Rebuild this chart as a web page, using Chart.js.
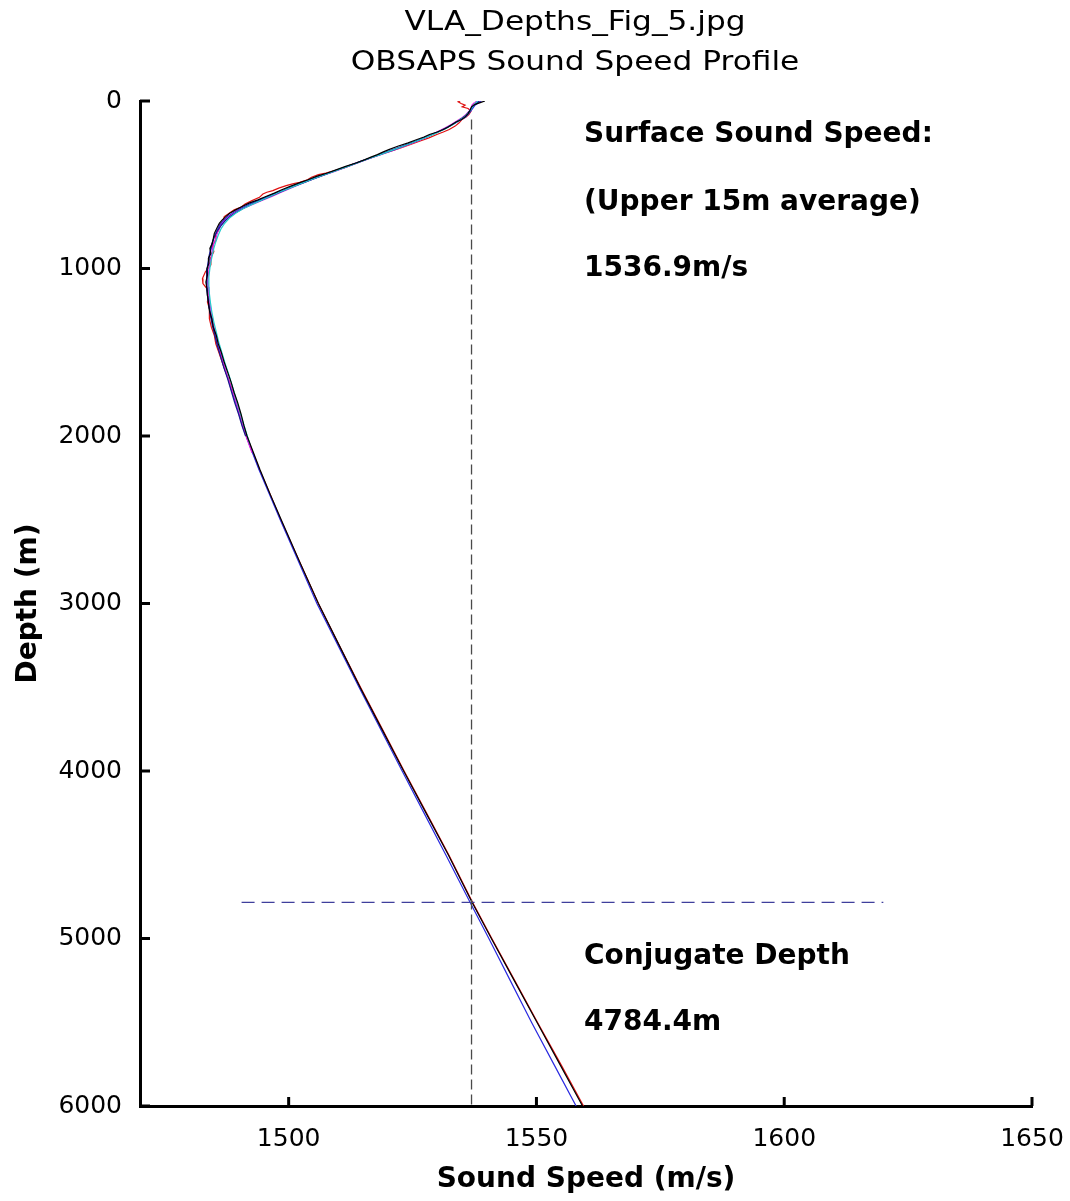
<!DOCTYPE html>
<html>
  <head>
    <title>OBSAPS Sound Speed Profile</title>
    <script src="https://cdn.jsdelivr.net/npm/chart.js"></script>
    <style>
      body {
        background-color: #ffffff;
        margin: 0;
      }
    </style>
  </head>
  <body>
    <canvas id="myChart" width="1070" height="1201"></canvas>

    <script>
      // [depth (m), sound speed (m/s)] pairs
      const castBlack = [
        [0,1539.6],[8,1538.8],[20,1537.6],[35,1536.9],[55,1536.6],[75,1536.2],[95,1535.6],[110,1534.9],
        [125,1533.8],[140,1533.0],[155,1532.2],[170,1531.2],[185,1530.0],[200,1528.4],[215,1527.3],[230,1525.9],
        [250,1524.1],[270,1522.0],[290,1520.2],[305,1519.0],[320,1517.9],[335,1516.6],[350,1515.4],[370,1513.6],
        [390,1511.5],[410,1509.7],[430,1507.8],[450,1505.6],[470,1503.9],[490,1502.0],[510,1500.3],[530,1498.6],
        [550,1497.1],[570,1495.4],[590,1493.8],[610,1492.0],[630,1490.6],[650,1489.3],[670,1488.1],[690,1487.3],
        [710,1486.6],[730,1486.0],[760,1485.5],[790,1485.0],[820,1484.8],[850,1484.6],[880,1484.1],[910,1484.3],
        [940,1483.8],[970,1483.9],[1000,1483.5],[1040,1483.6],[1080,1483.3],[1120,1483.5],[1160,1483.6],[1200,1483.8],
        [1250,1484.0],[1300,1484.5],[1350,1484.8],[1400,1485.4],[1450,1485.8],[1500,1486.4],[1560,1487.0],[1620,1487.7],
        [1680,1488.4],[1740,1489.0],[1800,1489.7],[1870,1490.4],[1940,1491.0],[2000,1491.6],[2100,1492.9],[2200,1494.2],
        [2350,1496.3],[2500,1498.5],[2750,1502.2],[3000,1506.0],[3250,1510.2],[3500,1514.4],[3750,1518.8],[4000,1523.2],
        [4250,1527.7],[4500,1532.2],[4784,1537.0],[5000,1540.9],[5250,1545.5],[5500,1550.1],[5750,1554.7],[6000,1559.3]
      ];
      const castRed = [
        [0,1534.6],[5,1534.2],[15,1534.8],[25,1535.6],[35,1535.0],[45,1536.2],[60,1536.8],[80,1536.4],[95,1535.8],
        [110,1535.0],[130,1534.4],[150,1533.6],[170,1532.4],[185,1531.2],[200,1529.9],[220,1528.3],[240,1526.4],
        [260,1524.6],[280,1522.6],[300,1520.6],[320,1518.4],[340,1516.5],[360,1514.6],[380,1512.7],[400,1511.2],
        [415,1509.3],[430,1507.5],[440,1506.0],[455,1504.6],[470,1503.8],[485,1502.2],[495,1500.8],[505,1499.5],
        [520,1498.0],[535,1496.8],[545,1495.6],[555,1494.8],[575,1494.1],[595,1492.6],[615,1491.2],[635,1490.3],
        [650,1489.0],[670,1488.0],[690,1487.0],[715,1486.8],[740,1486.0],[770,1485.9],[800,1485.2],[830,1485.4],
        [860,1484.6],[900,1484.9],[940,1484.2],[980,1484.3],[1020,1483.2],[1060,1482.6],[1090,1482.7],[1120,1483.5],
        [1160,1483.9],[1200,1483.6],[1250,1484.1],[1300,1484.0],[1350,1484.4],[1400,1485.0],[1450,1485.3],[1500,1485.9],
        [1560,1486.6],[1620,1487.3],[1680,1488.1],[1740,1488.8],[1800,1489.4],[1870,1490.2],[1940,1490.9],[2000,1491.5],
        [2100,1492.8],[2200,1494.1],[2350,1496.3],[2500,1498.4],[2750,1502.2],[3000,1506.0],[3250,1510.2],[3500,1514.5],
        [3750,1518.9],[4000,1523.3],[4250,1527.8],[4500,1532.3],[4784,1537.1],[5000,1541.0],[5250,1545.6],[5500,1550.2],
        [5750,1554.9],[6000,1559.5]
      ];
      const castBlue = [
        [0,1538.9],[10,1538.3],[25,1537.6],[45,1537.1],[70,1536.5],[95,1535.7],[115,1534.6],[135,1533.4],[155,1532.1],
        [175,1530.8],[195,1529.3],[215,1527.6],[240,1525.6],[265,1523.4],[290,1521.0],[315,1518.8],[340,1516.4],
        [365,1514.1],[390,1511.8],[415,1509.4],[440,1507.1],[465,1504.8],[490,1502.6],[515,1500.4],[540,1498.2],
        [565,1496.2],[590,1494.1],[615,1492.1],[640,1490.4],[665,1488.9],[690,1487.7],[715,1486.8],[745,1486.0],
        [775,1485.5],[810,1485.0],[850,1484.6],[890,1484.3],[930,1484.0],[970,1483.8],[1010,1483.6],[1060,1483.5],
        [1110,1483.5],[1160,1483.7],[1220,1483.9],[1280,1484.3],[1340,1484.7],[1400,1485.2],[1460,1485.7],[1520,1486.3],
        [1590,1487.0],[1660,1487.8],[1730,1488.5],[1800,1489.3],[1870,1490.0],[1940,1490.7],[2000,1491.4],[2200,1494.0],
        [2500,1498.3],[3000,1505.7],[3500,1514.2],[4000,1522.9],[4250,1527.3],[4500,1531.7],[4784,1536.6],[5000,1540.4],
        [5250,1544.7],[5500,1549.0],[5750,1553.5],[6000,1558.0]
      ];
      const castMagenta = [
        [0,1537.6],[5,1538.3],[12,1537.4],[25,1537.0],[40,1536.8],[60,1536.4],[80,1535.8],[100,1535.0],[120,1533.9],
        [140,1532.8],[160,1531.6],[180,1530.3],[200,1528.9],[220,1527.6],[245,1525.6],[270,1523.4],[295,1521.1],
        [320,1518.6],[345,1516.2],[370,1513.9],[395,1511.6],[420,1509.3],[445,1506.9],[470,1504.6],[495,1502.4],
        [520,1500.4],[545,1498.5],[570,1496.6],[595,1494.5],[620,1492.5],[645,1490.6],[670,1489.0],[695,1487.8],
        [720,1486.9],[750,1486.2],[780,1485.7],[810,1485.4],[850,1484.9],[890,1484.6],[930,1484.4],[970,1484.1],
        [1010,1483.9],[1060,1483.7],[1110,1483.8],[1160,1483.9],[1210,1484.1],[1270,1484.4],[1330,1484.8],[1390,1485.3],
        [1450,1485.8],[1510,1486.3],[1570,1486.9],[1640,1487.6],[1710,1488.4],[1780,1489.2],[1850,1489.9],[1920,1490.6],
        [2000,1491.4],[2100,1492.6]
      ];
      const castCyan = [
        [0,1538.2],[10,1537.8],[25,1537.3],[45,1536.9],[70,1536.3],[95,1535.5],[120,1534.2],[145,1532.9],[170,1531.3],
        [195,1529.5],[220,1527.5],[245,1525.3],[270,1523.1],[295,1520.8],[320,1518.5],[345,1516.1],[370,1513.8],
        [395,1511.5],[420,1509.1],[445,1506.8],[470,1504.5],[495,1502.3],[520,1500.2],[545,1498.1],[570,1496.2],
        [595,1494.3],[620,1492.4],[645,1490.7],[670,1489.3],[700,1488.0],[730,1487.1],[760,1486.4],[800,1485.8],
        [840,1485.3],[880,1484.9],[920,1484.6],[960,1484.3],[1000,1484.1],[1050,1483.9],[1100,1483.9],[1150,1484.0],
        [1200,1484.2],[1260,1484.5],[1320,1484.9],[1380,1485.4],[1440,1485.9],[1500,1486.5],[1570,1487.2],[1640,1488.0],
        [1710,1488.7],[1780,1489.4],[1850,1490.1],[1920,1490.8],[2050,1492.2]
      ];
      const castNavy = [
        [0,1538.5],[10,1538.0],[30,1537.2],[60,1536.5],[90,1535.6],[115,1534.4],[140,1533.0],[165,1531.6],[190,1529.8],
        [215,1527.8],[240,1525.7],[265,1523.5],[290,1521.3],[315,1518.9],[340,1516.5],[365,1514.2],[390,1511.9],
        [415,1509.6],[440,1507.3],[465,1505.0],[490,1502.8],[515,1500.6],[540,1498.6],[565,1496.6],[590,1494.6],
        [615,1492.6],[640,1490.9],[665,1489.4],[690,1488.2],[715,1487.2],[745,1486.3],[775,1485.6],[810,1485.0],
        [850,1484.5],[890,1484.2],[930,1483.9],[970,1483.7],[1010,1483.5],[1060,1483.4],[1110,1483.5],[1160,1483.6],
        [1220,1483.9],[1280,1484.2],[1340,1484.6],[1400,1485.1],[1460,1485.6],[1520,1486.2],[1590,1486.9],[1660,1487.7],
        [1730,1488.4],[1800,1489.1],[1870,1489.9],[1940,1490.6],[2000,1491.3]
      ];

      const surfaceSpeed = 1536.9;      // upper 15m average
      const conjugateDepth = 4784.4;
      const conjugateLine = [1490.5, 1620];  // speed extent of the depth marker
      const surfaceLine = [110, 6000];       // depth extent of the speed marker

      const xTickValues = [1500, 1550, 1600, 1650];
      const yTickValues = [0, 1000, 2000, 3000, 4000, 5000, 6000];

      const titleLines = ["VLA_Depths_Fig_5.jpg", "OBSAPS Sound Speed Profile"];
      const noteLines = [
        "Surface Sound Speed:", "(Upper 15m average)", surfaceSpeed + "m/s",
        "Conjugate Depth", conjugateDepth + "m"
      ];

      const FONT = "DejaVu Sans";

      function toPoints(cast) {
        return cast.map(([d, c]) => ({ x: c, y: d }));
      }

      function castDataset(cast, color) {
        return {
          data: toPoints(cast),
          borderColor: color,
          borderWidth: 1.2,
          showLine: true,
          pointRadius: 0,
        };
      }

      // inward ticks, header and the text notes
      const decor = {
        id: "decor",
        afterDatasetsDraw(chart) {
          const ctx = chart.ctx;
          const x = chart.scales.x, y = chart.scales.y;
          const area = chart.chartArea;
          ctx.save();
          ctx.strokeStyle = "#000";
          ctx.lineWidth = 3;
          ctx.beginPath();
          yTickValues.forEach((v) => {
            const py = y.getPixelForValue(v);
            ctx.moveTo(area.left, py);
            ctx.lineTo(area.left + 10, py);
          });
          xTickValues.forEach((v) => {
            const px = x.getPixelForValue(v);
            ctx.moveTo(px, area.bottom);
            ctx.lineTo(px, area.bottom - 9);
          });
          ctx.stroke();

          // header, stretched a little to match the original lettering
          ctx.fillStyle = "#000";
          ctx.font = "26px '" + FONT + "'";
          ctx.textAlign = "center";
          ctx.textBaseline = "middle";
          titleLines.forEach((t, i) => {
            ctx.save();
            ctx.translate(575, 23 + i * 40);
            ctx.scale(1.2, 1);
            ctx.fillText(t, 0, 0);
            ctx.restore();
          });

          ctx.font = "bold 28px '" + FONT + "'";
          ctx.textAlign = "left";
          const noteX = x.getPixelForValue(1559.6);
          const noteDepths = [203, 609, 1003, 5110, 5504];
          noteLines.forEach((t, i) => {
            ctx.fillText(t, noteX, y.getPixelForValue(noteDepths[i]));
          });
          ctx.restore();
        },
      };

      var ctx = document.getElementById("myChart").getContext("2d");
      var myChart = new Chart(ctx, {
        type: "scatter",
        data: {
          datasets: [
            {
              data: [{ x: surfaceSpeed, y: surfaceLine[0] }, { x: surfaceSpeed, y: surfaceLine[1] }],
              borderColor: "#4a4a4a",
              borderWidth: 1.3,
              borderDash: [10, 5],
              showLine: true,
              pointRadius: 0,
            },
            {
              data: [{ x: conjugateLine[0], y: conjugateDepth }, { x: conjugateLine[1], y: conjugateDepth }],
              borderColor: "#3f3f9c",
              borderWidth: 1.3,
              borderDash: [13, 7],
              showLine: true,
              pointRadius: 0,
            },
            castDataset(castBlack, "#000000"),
            castDataset(castCyan, "#22cccc"),
            castDataset(castNavy, "#1a1a8c"),
            castDataset(castMagenta, "#e020e0"),
            castDataset(castBlue, "#2a2ae0"),
            castDataset(castRed, "#e01010"),
          ],
        },
        options: {
          responsive: false,
          animation: false,
          layout: { padding: { top: 101, right: 38, left: 0, bottom: 0 } },
          plugins: {
            legend: { display: false },
            tooltip: { enabled: false },
          },
          scales: {
            x: {
              type: "linear",
              min: 1470,
              max: 1650,
              afterBuildTicks: (s) => { s.ticks = xTickValues.map((v) => ({ value: v })); },
              afterFit: (s) => {
                s.height = 95;
                s.paddingLeft = 0;
                s.paddingRight = 0;
              },
              grid: { display: false, drawTicks: false },
              border: { display: true, width: 3, color: "#000" },
              ticks: {
                padding: 18,
                color: "#000",
                maxRotation: 0,
                font: { family: FONT, size: 25 },
                callback: (v) => String(v),
              },
              title: {
                display: true,
                text: "Sound Speed (m/s)",
                color: "#000",
                font: { family: FONT, size: 28, weight: "bold" },
                padding: { top: 0, bottom: 4 },
              },
            },
            y: {
              type: "linear",
              reverse: true,
              min: 0,
              max: 6000,
              afterBuildTicks: (s) => { s.ticks = yTickValues.map((v) => ({ value: v })); },
              afterFit: (s) => {
                s.width = 140;
                s.paddingTop = 0;
                s.paddingBottom = 0;
              },
              grid: { display: false, drawTicks: false },
              border: { display: true, width: 3, color: "#000" },
              ticks: {
                padding: 18,
                color: "#000",
                font: { family: FONT, size: 25 },
                callback: (v) => String(v),
              },
              title: {
                display: true,
                text: "Depth (m)",
                color: "#000",
                font: { family: FONT, size: 28, weight: "bold" },
                padding: { top: 12, bottom: 0 },
              },
            },
          },
        },
        plugins: [decor],
      });
    </script>
  </body>
</html>
